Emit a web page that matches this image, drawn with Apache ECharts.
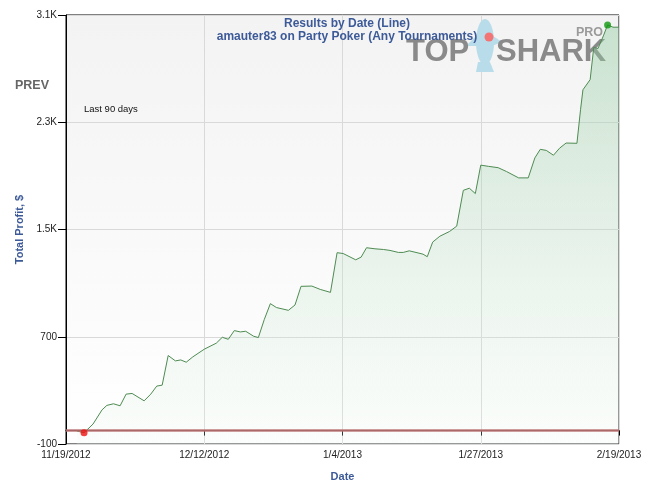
<!DOCTYPE html>
<html>
<head>
<meta charset="utf-8">
<script src="https://cdn.jsdelivr.net/npm/echarts@6/dist/echarts.min.js"></script>
<style>html,body{margin:0;padding:0;background:#fff}#c{width:647px;height:486px}</style>
</head>
<body>
<div id="c"></div>
<script>
// Days since 11/19/2012
var dayOffsets = [1.8, 3, 4.5, 6, 6.8, 7.9, 9, 10, 11, 13, 14.1, 15.1, 16, 17, 18.2, 19.1, 20, 21.1, 23, 25, 26, 27, 28, 29, 29.9, 31.2, 32, 33, 34, 35, 37, 38.1, 39.1, 40.9, 42.3, 44, 45.1, 46.1, 48.2, 49.1, 50, 51.4, 52.8, 53.9, 55.3, 56.1, 57.1, 58.4, 59.4, 60.1, 61, 62.2, 63.8, 65, 66.1, 67.1, 68.1, 69, 70.3, 71.9, 73.3, 75.3, 76.9, 78, 78.9, 79.9, 81.1, 82.1, 83.2, 85, 85.6, 86, 87.2, 87.8, 88.5, 89.4, 90.1, 91, 92];
var profits    = [-3, -16, 49, 155, 188, 200, 185, 272, 277, 222, 272, 332, 339, 560, 520, 527, 510, 550, 607, 652, 696, 681, 746, 736, 741, 704, 694, 830, 947, 918, 897, 937, 1076, 1078, 1053, 1031, 1327, 1321, 1274, 1294, 1364, 1356, 1351, 1344, 1329, 1329, 1341, 1327, 1316, 1297, 1406, 1450, 1485, 1525, 1792, 1808, 1768, 1980, 1971, 1961, 1932, 1885, 1885, 2034, 2098, 2090, 2054, 2106, 2145, 2143, 2393, 2542, 2618, 2858, 2850, 2944, 3026, 3009, 3009];
var xTicks = [0, 23, 46, 69, 92];
var xTickLabels = ['11/19/2012', '12/12/2012', '1/4/2013', '1/27/2013', '2/19/2013'];
var yTicks = [-100, 700, 1500, 2300, 3100];
var yTickLabels = ['-100', '700', '1.5K', '2.3K', '3.1K'];
var titleLines = ['Results by Date (Line)', 'amauter83 on Party Poker (Any Tournaments)'];

var lineData = dayOffsets.map(function (d, i) { return [d, profits[i]]; });
var minI = 0, maxI = 0;
profits.forEach(function (v, i) { if (v < profits[minI]) minI = i; if (v > profits[maxI]) maxI = i; });

var blue = '#3d5a98';
var chart = echarts.init(document.getElementById('c'), null, { renderer: 'canvas' });
chart.setOption({
  animation: false,
  backgroundColor: '#fff',
  title: {
    text: titleLines.join('\n'),
    left: 342, top: 12, textAlign: 'center',
    textStyle: { color: blue, fontSize: 12, fontWeight: 'bold', fontFamily: 'Liberation Sans, Arial', lineHeight: 13 }
  },
  grid: {
    left: 66, right: 28, top: 15, bottom: 42,
    outerBoundsMode: 'none', containLabel: false,
    show: true, borderColor: '#000', borderWidth: 1,
    backgroundColor: new echarts.graphic.LinearGradient(0, 0, 0, 1, [
      { offset: 0, color: '#f3f3f3' }, { offset: 1, color: '#ffffff' }
    ])
  },
  graphic: [
    { type: 'text', left: 15, top: 79, z: 10, style: { text: 'PREV', fill: '#666', font: 'bold 12.5px "Liberation Sans", Arial' } },
    { type: 'text', x: 84, y: 109, z: 10, style: { text: 'Last 90 days', fill: '#111', font: '9.5px "Liberation Sans", Arial', textVerticalAlign: 'middle' } },
    { type: 'ellipse', z: 1, shape: { cx: 485, cy: 42, rx: 9, ry: 23 }, style: { fill: '#b9dcea' } },
    { type: 'polygon', z: 1, shape: { points: [[478, 62], [490, 62], [494, 72], [476, 72]] }, style: { fill: '#b9dcea' } },
    { type: 'polygon', z: 1, shape: { points: [[476, 36], [466, 46], [478, 46]] }, style: { fill: '#b9dcea' } },
    { type: 'polygon', z: 1, shape: { points: [[493, 36], [502, 42], [492, 46]] }, style: { fill: '#b9dcea' } },
    { type: 'circle', z: 1, shape: { cx: 489, cy: 37, r: 4.5 }, style: { fill: '#f27474' } },
    { type: 'text', x: 406, y: 52.5, z: 1, style: { text: 'TOP', fill: '#8a8a8a', font: 'bold 31px "Liberation Sans", Arial', textVerticalAlign: 'middle' } },
    { type: 'text', x: 496, y: 52.5, z: 1, style: { text: 'SHARK', fill: '#8a8a8a', font: 'bold 31px "Liberation Sans", Arial', textVerticalAlign: 'middle' } },
    { type: 'text', x: 576, y: 32.5, z: 1, style: { text: 'PRO', fill: '#9a9a9a', font: 'bold 12.5px "Liberation Sans", Arial', textVerticalAlign: 'middle' } }
  ],
  xAxis: {
    type: 'value', min: xTicks[0], max: xTicks[xTicks.length - 1], interval: 23,
    name: 'Date', nameLocation: 'middle', nameGap: 27,
    nameTextStyle: { color: blue, fontSize: 11, fontWeight: 'bold', fontFamily: 'Liberation Sans, Arial' },
    axisLine: { lineStyle: { color: '#000', width: 1 } },
    axisTick: { show: true, length: 5, lineStyle: { color: '#000' } },
    axisLabel: {
      color: '#222', fontSize: 10, fontFamily: 'Liberation Sans, Arial', margin: 6,
      showMinLabel: true, showMaxLabel: true, hideOverlap: false,
      formatter: function (v) { var i = xTicks.indexOf(v); return i >= 0 ? xTickLabels[i] : ''; }
    },
    splitLine: { show: true, lineStyle: { color: '#d9d9d9', width: 1 } }
  },
  yAxis: {
    type: 'value', min: yTicks[0], max: yTicks[yTicks.length - 1], interval: 800,
    name: 'Total Profit, $', nameLocation: 'middle', nameGap: 39, nameRotate: 90,
    nameTextStyle: { color: blue, fontSize: 11, fontWeight: 'bold', fontFamily: 'Liberation Sans, Arial' },
    axisLine: { show: true, lineStyle: { color: '#000', width: 1 } },
    axisTick: { show: true, length: 8, lineStyle: { color: '#000' } },
    axisLabel: {
      color: '#222', fontSize: 10, fontFamily: 'Liberation Sans, Arial', margin: 9,
      showMinLabel: true, showMaxLabel: true,
      formatter: function (v) { var i = yTicks.indexOf(v); return i >= 0 ? yTickLabels[i] : ''; }
    },
    splitLine: { show: true, lineStyle: { color: '#d9d9d9', width: 1 } }
  },
  series: [
    {
      type: 'line', data: lineData, showSymbol: false, z: 3,
      lineStyle: { color: '#4e8b52', width: 1 },
      areaStyle: {
        origin: 'start',
        color: new echarts.graphic.LinearGradient(0, 0, 0, 1, [
          { offset: 0, color: 'rgba(140,200,155,0.6)' }, { offset: 1, color: 'rgba(235,247,238,0.3)' }
        ])
      },
      markLine: {
        silent: true, symbol: 'none', label: { show: false },
        lineStyle: { color: '#b86e6e', width: 2.5, type: 'solid', opacity: 0.9 },
        data: [{ yAxis: 0 }]
      }
    },
    {
      type: 'scatter', z: 5, symbolSize: 7,
      data: [
        { value: lineData[minI], itemStyle: { color: '#ee1111' } },
        { value: lineData[maxI], itemStyle: { color: '#119911' } }
      ]
    }
  ]
});
</script>
</body>
</html>
